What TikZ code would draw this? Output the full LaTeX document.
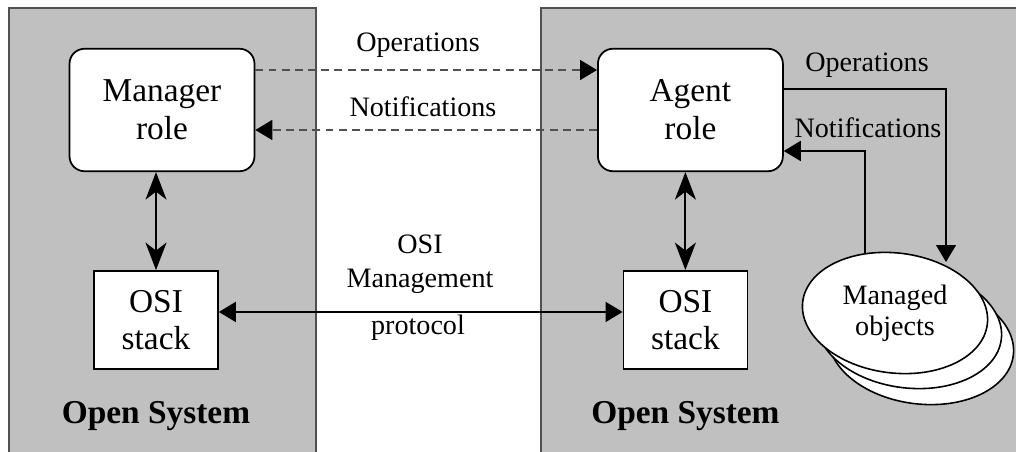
\documentclass[tikz,border=0pt]{standalone}
\usepackage{fontspec}
\setmainfont{Liberation Serif}
\usetikzlibrary{arrows.meta,shapes.geometric}
\definecolor{panelgray}{RGB}{192,192,192}
\definecolor{edgegray}{RGB}{80,80,80}

\begin{document}
\begin{tikzpicture}[x=0.02cm,y=-0.02cm,node distance=4.2cm]
\tikzstyle{role}=[draw,fill=white,rounded corners=0.3cm,line width=1pt,minimum width=3.7cm,minimum height=2.45cm,align=center,font=\fontsize{19}{21.5}\selectfont]
\tikzstyle{stack}=[draw,fill=white,line width=1pt,minimum width=2.48cm,minimum height=1.96cm,align=center,font=\fontsize{19}{21}\selectfont]
\tikzstyle{lbl}=[font=\fontsize{16}{19.4}\selectfont,align=center]
\tikzstyle{sys}=[font=\fontsize{19}{22}\selectfont\bfseries]
\tikzstyle{obj}=[draw,fill=white,ellipse,line width=0.9pt,inner sep=0pt,minimum width=3.72cm,minimum height=2.4cm,rotate=-7]
\tikzstyle{link}=[line width=1pt,-{Triangle[length=0.34cm,width=0.4cm,color=black]}]
\tikzstyle{both}=[line width=1pt,{Triangle[length=0.34cm,width=0.4cm]}-{Triangle[length=0.34cm,width=0.4cm]}]
\tikzstyle{dbl}=[line width=1.1pt,{Stealth[length=0.55cm,width=0.42cm,inset=0.16cm]}-{Stealth[length=0.55cm,width=0.42cm,inset=0.16cm]}]
\clip (0,0) rectangle (1016,452);
\draw[fill=panelgray,draw=edgegray,line width=1pt] (9,8) rectangle (316,470);
\draw[fill=panelgray,draw=edgegray,line width=1pt] (541,8) rectangle (1040,470);

\node[role] (mgr) at (162,110) {Manager\\role};
\node[stack,below of=mgr,xshift=-0.12cm] (osiL) {OSI\\stack};
\node[sys,below of=osiL,node distance=1.92cm] (sysL) {Open System};

\node[role,right of=mgr,node distance=10.57cm] (agent) {Agent\\role};
\node[stack,below of=agent,xshift=-0.1cm] (osiR) {OSI\\stack};
\node[sys,below of=osiR,node distance=1.92cm] (sysR) {Open System};

\node[obj] (mo3) at (921,344) {};
\node[obj] (mo2) at (909,328) {};
\node[obj] (mo) at (895,313) {};
\node[lbl,font=\fontsize{16}{17.6}\selectfont] (motext) at (mo.center) {Managed\\objects};
\coordinate (opsin) at (946,262);
\coordinate (ntfout) at (865,254);

\node[lbl] (ops) at (418,45) {Operations};
\node[lbl] (ntf) at (423,107) {Notifications};
\node[lbl] (ops2) at (867,65) {Operations};
\node[lbl] (ntf2) at (868,128) {Notifications};
\node[lbl] (mgmt) at (420,264) {OSI\\Management};
\node[lbl] (proto) at (418,328) {protocol};

\draw[dbl] (osiL.north |- mgr.south) -- (osiL.north);
\draw[dbl] (osiR.north |- agent.south) -- (osiR.north);
\draw[both] ([yshift=0.16cm]osiL.east) -- ([yshift=0.16cm]osiL.east -| osiR.west);
\draw[link,dashed,draw=edgegray,dash pattern=on 4.5pt off 3pt] ([yshift=0.8cm]mgr.east) -- ([yshift=0.8cm]mgr.east -| agent.west);
\draw[link,dashed,draw=edgegray,dash pattern=on 4.5pt off 3pt] ([yshift=-0.4cm]agent.west) -- ([yshift=-0.4cm]agent.west -| mgr.east);
\draw[link,line width=0.7pt] ([yshift=0.42cm]agent.east) -| (opsin);
\draw[link] (ntfout) |- ([yshift=-0.82cm]agent.east);
\end{tikzpicture}
\end{document}
